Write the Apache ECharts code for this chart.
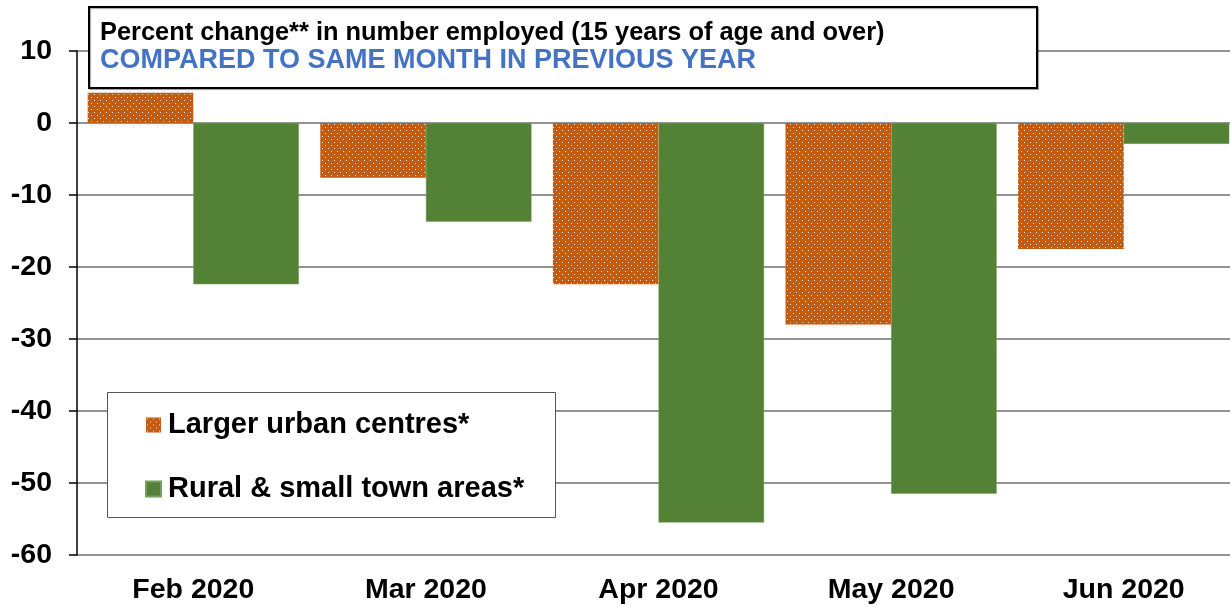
<!DOCTYPE html>
<html>
<head>
<meta charset="utf-8">
<script src="https://cdn.jsdelivr.net/npm/echarts@6/dist/echarts.min.js"></script>
<style>
html,body{margin:0;padding:0;background:#fff;overflow:hidden;width:1230px;height:607px;}
#chart{width:1240px;height:607px;}
</style>
</head>
<body>
<div id="chart"></div>
<script>
const categories = ['Feb 2020', 'Mar 2020', 'Apr 2020', 'May 2020', 'Jun 2020'];
const urbanValues = [4.2, -7.6, -22.4, -28.0, -17.5];
const ruralValues = [-22.4, -13.7, -55.5, -51.5, -2.9];
const seriesNames = ['Larger urban centres*', 'Rural & small town areas*'];
const yTicks = { min: -60, max: 10, interval: 10 };
const titleLine1 = 'Percent change** in number employed (15 years of age and over)';
const titleLine2 = 'COMPARED TO SAME MONTH IN PREVIOUS YEAR';

// dotted orange pattern
const tile = document.createElement('canvas');
tile.width = 6; tile.height = 6;
const tctx = tile.getContext('2d');
tctx.fillStyle = '#C55A11';
tctx.fillRect(0, 0, 6, 6);
tctx.fillStyle = 'rgba(255,255,255,0.85)';
tctx.fillRect(1, 1, 1, 1);
tctx.fillRect(4, 4, 1, 1);
const orangePattern = { image: tile, repeat: 'repeat' };

const chart = echarts.init(document.getElementById('chart'));
const font = "'Liberation Sans', Arial, sans-serif";
chart.setOption({
  animation: false,
  textStyle: { fontFamily: font },
  grid: { left: 77, right: 0, top: 51, bottom: 52, containLabel: false },
  title: {
    left: 100, top: 19, padding: 0, z: 20,
    text: '{a|' + titleLine1 + '}\n{b|' + titleLine2 + '}',
    textStyle: {
      rich: {
        a: { fontSize: 25.4, fontWeight: 'bold', color: '#000', fontFamily: font, lineHeight: 28 },
        b: { fontSize: 27, fontWeight: 'bold', color: '#4472C4', fontFamily: font, lineHeight: 28 }
      }
    }
  },
  graphic: [
    { type: 'rect', z: 15, shape: { x: 89, y: 7, width: 948, height: 81 },
      style: { fill: '#fff', stroke: '#000', lineWidth: 2, shadowColor: 'rgba(0,0,0,0.35)', shadowOffsetX: 1, shadowOffsetY: 1, shadowBlur: 1 } },
    { type: 'rect', z: 15, shape: { x: 107.5, y: 392.5, width: 448, height: 125 },
      style: { fill: '#fff', stroke: '#555', lineWidth: 1 } }
  ],
  legend: {
    orient: 'vertical', left: 145, top: 410, z: 20, padding: 0,
    itemWidth: 15, itemHeight: 15, itemGap: 34, icon: 'rect',
    data: seriesNames,
    textStyle: { fontSize: 29, fontWeight: 'bold', color: '#000', fontFamily: font, lineHeight: 30, padding: [0, 0, 0, 2] }
  },
  xAxis: {
    type: 'category', data: categories,
    axisLine: { show: false, onZero: false },
    axisTick: { show: false },
    axisLabel: { fontSize: 28.5, fontWeight: 'bold', color: '#000', margin: 21, fontFamily: font }
  },
  yAxis: {
    type: 'value', min: yTicks.min, max: yTicks.max, interval: yTicks.interval,
    axisLine: { show: true, lineStyle: { color: '#000', width: 1.5 } },
    axisTick: { show: true, length: 8, lineStyle: { color: '#000', width: 1.5 } },
    axisLabel: { fontSize: 28.5, fontWeight: 'bold', color: '#000', margin: 25, fontFamily: font },
    splitLine: { show: true, lineStyle: { color: '#6f6f6f', width: 1.5 } }
  },
  series: [
    { name: seriesNames[0], type: 'bar', data: urbanValues, barGap: '0%', barCategoryGap: '9.2%',
      itemStyle: { color: orangePattern } },
    { name: seriesNames[1], type: 'bar', data: ruralValues, barGap: '0%', barCategoryGap: '9.2%',
      itemStyle: { color: '#538135', borderColor: '#76a05a', borderWidth: 0.5 } }
  ]
});
</script>
</body>
</html>
